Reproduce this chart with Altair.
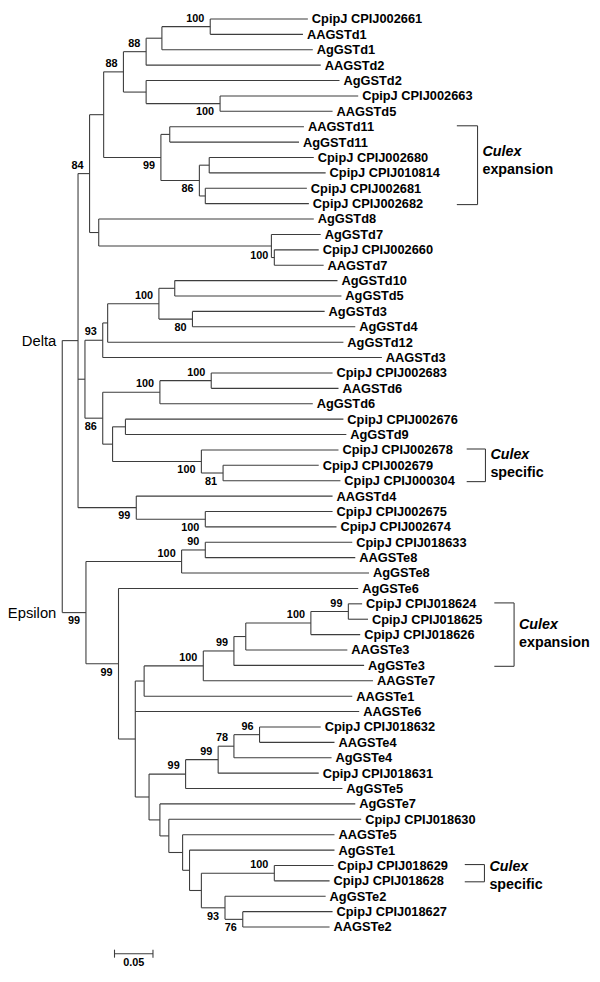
import altair as alt
import pandas as pd

# ---------------- data ----------------
# leaves, top to bottom, with the internal node they hang from and their
# distance from the root (substitutions per site)
leaf_names = [
    "CpipJ CPIJ002661", "AAGSTd1", "AgGSTd1", "AAGSTd2", "AgGSTd2", "CpipJ CPIJ002663", "AAGSTd5",
    "AAGSTd11", "AgGSTd11", "CpipJ CPIJ002680", "CpipJ CPIJ010814", "CpipJ CPIJ002681", "CpipJ CPIJ002682",
    "AgGSTd8", "AgGSTd7", "CpipJ CPIJ002660", "AAGSTd7",
    "AgGSTd10", "AgGSTd5", "AgGSTd3", "AgGSTd4", "AgGSTd12", "AAGSTd3",
    "CpipJ CPIJ002683", "AAGSTd6", "AgGSTd6", "CpipJ CPIJ002676", "AgGSTd9",
    "CpipJ CPIJ002678", "CpipJ CPIJ002679", "CpipJ CPIJ000304",
    "AAGSTd4", "CpipJ CPIJ002675", "CpipJ CPIJ002674",
    "CpipJ CPIJ018633", "AAGSTe8", "AgGSTe8", "AgGSTe6",
    "CpipJ CPIJ018624", "CpipJ CPIJ018625", "CpipJ CPIJ018626", "AAGSTe3", "AgGSTe3",
    "AAGSTe7", "AAGSTe1", "AAGSTe6",
    "CpipJ CPIJ018632", "AAGSTe4", "AgGSTe4", "CpipJ CPIJ018631", "AgGSTe5",
    "AgGSTe7", "CpipJ CPIJ018630", "AAGSTe5", "AgGSTe1", "CpipJ CPIJ018629", "CpipJ CPIJ018628",
    "AgGSTe2", "CpipJ CPIJ018627", "AAGSTe2",
]
leaf_parent = [
    "K", "K", "J", "H", "I", "L", "L",
    "M", "M", "O", "O", "P", "P",
    "E", "C", "D", "D",
    "U", "U", "V", "V", "S", "R",
    "Z", "Z", "X", "AA", "AA",
    "AB", "AC", "AC",
    "AD", "AE", "AE",
    "AH", "AH", "AF", "AG",
    "AQ", "AQ", "AP", "AO", "AN",
    "AL", "AK", "AI",
    "AV", "AV", "AU", "AT", "AR",
    "AS", "AW", "AX", "AY", "BA", "BA",
    "BB", "BC", "BC",
]
leaf_depth = [
    0.3192, 0.3128, 0.3256, 0.3359, 0.3603, 0.3846, 0.3513,
    0.3141, 0.3077, 0.3269, 0.3423, 0.3179, 0.3205,
    0.3269, 0.3359, 0.3333, 0.3397,
    0.3577, 0.3628, 0.3410, 0.3808, 0.3654, 0.4154,
    0.3513, 0.3590, 0.3256, 0.3654, 0.3692,
    0.3590, 0.3333, 0.3615,
    0.3513, 0.3513, 0.3564,
    0.3769, 0.3808, 0.3987, 0.3846,
    0.3897, 0.3974, 0.3872, 0.3705, 0.3923,
    0.4038, 0.3769, 0.3859,
    0.3359, 0.3538, 0.3500, 0.3333, 0.3641,
    0.3808, 0.3885, 0.3538, 0.3538, 0.3526, 0.3474,
    0.3423, 0.3513, 0.3474,
]

# internal nodes: id, parent, distance from root, bootstrap support
node_ids = [
    "Root", "Delta", "Epsilon",
    "A", "B", "F", "H", "J", "K", "I", "L", "G", "M", "N", "O", "P", "E", "C", "D",
    "Q", "R", "S", "T", "U", "V", "W", "X", "Z", "Y", "AA", "AB", "AC",
    "AD", "AE",
    "AF", "AH", "AG", "AI", "AK", "AL", "AN", "AO", "AP", "AQ",
    "AM", "AR", "AT", "AU", "AV", "AS", "AW", "AX", "AY", "AZ", "BA", "BB", "BC",
]
node_parent = [
    None, "Root", "Root",
    "Delta", "A", "B", "F", "H", "J", "F", "I", "B", "G", "G", "N", "N", "A", "E", "C",
    "Delta", "Q", "R", "S", "T", "T", "Q", "W", "X", "W", "Y", "Y", "AB",
    "Delta", "AD",
    "Epsilon", "AF", "Epsilon", "AG", "AI", "AK", "AL", "AN", "AO", "AP",
    "AI", "AM", "AR", "AT", "AU", "AM", "AS", "AW", "AX", "AY", "AZ", "AZ", "BB",
]
node_depth = [
    0.0, 0.0205, 0.0308,
    0.0355, 0.0538, 0.0795, 0.1090, 0.1295, 0.1923, 0.1090, 0.2051, 0.1282, 0.1397, 0.1782,
    0.1910, 0.1859, 0.0474, 0.2718, 0.2756,
    0.0295, 0.0526, 0.0590, 0.1256, 0.1462, 0.1692, 0.0526, 0.1269, 0.1936, 0.0654, 0.0821,
    0.1808, 0.2090,
    0.0962, 0.1859,
    0.1551, 0.1859, 0.0731, 0.0949, 0.1064, 0.1833, 0.2231, 0.2385, 0.3231, 0.3718,
    0.1128, 0.1603, 0.2026, 0.2231, 0.2564, 0.1269, 0.1385, 0.1564, 0.1654, 0.1808,
    0.2756, 0.2115, 0.2346,
]
node_support = [
    None, None, 99,
    84, None, 88, 88, None, 100, None, 100, 99, None, 86, None, None, None, None, 100,
    None, 93, None, 100, None, 80, 86, 100, 100, None, None, 100, 81,
    99, 100,
    100, 90, 99, None, None, 100, 99, None, 100, 99,
    None, 99, 99, 78, 96, None, None, None, None, None, 100, 93, 76,
]
# where each support value sits relative to its node: a = above, b = below, m = level
support_side = {
    "Epsilon": "b", "A": "a", "F": "a", "H": "a", "K": "a", "L": "b", "G": "b", "N": "b", "D": "m",
    "R": "a", "T": "a", "V": "b", "W": "b", "X": "a", "Z": "a", "AB": "b", "AC": "b",
    "AD": "b", "AE": "b", "AF": "a", "AH": "a", "AG": "b", "AL": "a", "AN": "a", "AP": "a",
    "AQ": "a", "AR": "a", "AT": "a", "AU": "a", "AV": "a", "BA": "a", "BB": "b", "BC": "b",
}

group_labels = ["Delta", "Epsilon"]

bracket_first = ["AAGSTd11", "CpipJ CPIJ002678", "CpipJ CPIJ018624", "CpipJ CPIJ018629"]
bracket_last = ["CpipJ CPIJ002682", "CpipJ CPIJ000304", "AgGSTe3", "CpipJ CPIJ018628"]
bracket_word1 = ["Culex", "Culex", "Culex", "Culex"]
bracket_word2 = ["expansion", "specific", "expansion", "specific"]

scale_bar_length = 0.05
scale_bar_label = "0.05"

# ---------------- layout (pixels -> data units) ----------------
W, H = 592, 950
PX_PER_UNIT = 780.0          # 39 px = 0.05
ROOT_PX = 55.0               # root position inside the view
ROW_PX = 15.602              # leaf spacing
ROW0_PX = 4.5                # first leaf inside the view
X0 = -ROOT_PX / PX_PER_UNIT
X1 = (W - ROOT_PX) / PX_PER_UNIT
Y0 = (0 - ROW0_PX) / ROW_PX
Y1 = (H - ROW0_PX) / ROW_PX

bracket_left = [0.5128, 0.5256, 0.5615, 0.5231]
bracket_right = [0.5397, 0.5500, 0.5872, 0.5487]
bracket_text_row = [8.67, 28.34, 39.37, 55.11]
scale_bar_start = 0.0679
scale_bar_row = 60.73
scale_label_row = 61.34

FONT = "Liberation Sans"
LINE = "#3d3d3d"

# ---------------- build tree geometry ----------------
row_of = {n: i for i, n in enumerate(leaf_names)}
depth_of = dict(zip(node_ids, node_depth))
depth_of.update(dict(zip(leaf_names, leaf_depth)))
parent_of = dict(zip(node_ids, node_parent))
parent_of.update(dict(zip(leaf_names, leaf_parent)))
children = {n: [] for n in node_ids}
for n, p in parent_of.items():
    if p is not None:
        children[p].append(n)


def span(n):
    if n in row_of:
        return row_of[n], row_of[n]
    lo, hi = 1e9, -1e9
    for c in children[n]:
        r = node_row(c)
        lo, hi = min(lo, r), max(hi, r)
    return lo, hi


_cache = {}


def node_row(n):
    if n not in _cache:
        lo, hi = span(n)
        _cache[n] = (lo + hi) / 2.0
    return _cache[n]


segs = []
for n in node_ids:
    lo, hi = span(n)
    segs.append(dict(x=depth_of[n], x2=depth_of[n], y=lo, y2=hi))
for n, p in parent_of.items():
    if p is not None:
        r = node_row(n)
        segs.append(dict(x=depth_of[p], x2=depth_of[n], y=r, y2=r))
seg_df = pd.DataFrame(segs)

leaf_df = pd.DataFrame({"name": leaf_names, "depth": leaf_depth,
                        "row": [row_of[n] for n in leaf_names]})

sup_rows = []
for n, s in zip(node_ids, node_support):
    if s is not None:
        sup_rows.append(dict(node=n, depth=depth_of[n], row=node_row(n),
                             label=str(s), side=support_side[n]))
sup_df = pd.DataFrame(sup_rows)

grp_df = pd.DataFrame({"label": group_labels, "depth": [0.0, 0.0],
                       "row": [node_row(g) for g in group_labels]})

br = []
bt = []
for i in range(len(bracket_first)):
    a, b = row_of[bracket_first[i]], row_of[bracket_last[i]]
    L, R = bracket_left[i], bracket_right[i]
    br += [dict(x=R, x2=R, y=a - 0.06, y2=b + 0.06),
           dict(x=L, x2=R, y=a - 0.06, y2=a - 0.06),
           dict(x=L, x2=R, y=b + 0.06, y2=b + 0.06)]
    bt.append(dict(x=R, row=bracket_text_row[i], w1=bracket_word1[i], w2=bracket_word2[i]))
br_df = pd.DataFrame(br)
bt_df = pd.DataFrame(bt)

sb_end = scale_bar_start + scale_bar_length
sb_df = pd.DataFrame([
    dict(x=scale_bar_start, x2=sb_end, y=scale_bar_row, y2=scale_bar_row),
    dict(x=scale_bar_start, x2=scale_bar_start, y=scale_bar_row - 0.26, y2=scale_bar_row + 0.26),
    dict(x=sb_end, x2=sb_end, y=scale_bar_row - 0.26, y2=scale_bar_row + 0.26),
])
sbl_df = pd.DataFrame([dict(x=scale_bar_start + scale_bar_length / 2, row=scale_label_row,
                            label=scale_bar_label)])

# ---------------- chart ----------------
xs = alt.Scale(domain=[X0, X1], nice=False, zero=False)
ys = alt.Scale(domain=[Y0, Y1], nice=False, zero=False, reverse=True)


def X(f):
    return alt.X(f, type="quantitative", scale=xs, axis=None)


def Y(f):
    return alt.Y(f, type="quantitative", scale=ys, axis=None)


tree = alt.Chart(seg_df).mark_rule(color=LINE, strokeWidth=1.1).encode(
    x=X("x"), x2="x2", y=Y("y"), y2="y2")

leaves = alt.Chart(leaf_df).mark_text(
    align="left", baseline="middle", dx=4, dy=0.5, font=FONT, fontSize=13,
    fontWeight="bold", color="black").encode(x=X("depth"), y=Y("row"), text="name:N")

side_dy = {"a": -8, "b": 9, "m": -2}
sup_layers = []
for side, dy in side_dy.items():
    sub = sup_df[sup_df["side"] == side]
    sup_layers.append(alt.Chart(sub).mark_text(
        align="right", baseline="middle", dx=-6, dy=dy, font=FONT, fontSize=11,
        fontWeight="bold", color="black").encode(x=X("depth"), y=Y("row"), text="label:N"))

groups = alt.Chart(grp_df).mark_text(
    align="right", baseline="middle", dx=-6, font=FONT, fontSize=15,
    color="black").encode(x=X("depth"), y=Y("row"), text="label:N")

brackets = alt.Chart(br_df).mark_rule(color=LINE, strokeWidth=1.1).encode(
    x=X("x"), x2="x2", y=Y("y"), y2="y2")
btext1 = alt.Chart(bt_df).mark_text(
    align="left", baseline="middle", dx=5, font=FONT, fontSize=14.5, fontWeight="bold",
    fontStyle="italic", color="black").encode(x=X("x"), y=Y("row"), text="w1:N")
btext2 = alt.Chart(bt_df).mark_text(
    align="left", baseline="middle", dx=5, dy=18, font=FONT, fontSize=14.5, fontWeight="bold",
    color="black").encode(x=X("x"), y=Y("row"), text="w2:N")

sbar = alt.Chart(sb_df).mark_rule(color=LINE, strokeWidth=1.1).encode(
    x=X("x"), x2="x2", y=Y("y"), y2="y2")
sbar_t = alt.Chart(sbl_df).mark_text(
    align="center", baseline="middle", font=FONT, fontSize=11, fontWeight="bold",
    color="black").encode(x=X("x"), y=Y("row"), text="label:N")

chart = alt.layer(tree, leaves, *sup_layers, groups, brackets, btext1, btext2, sbar, sbar_t).properties(
    width=W, height=H,
    autosize=alt.AutoSizeParams(type="none"),
    padding={"left": 0, "right": 0, "top": 0, "bottom": 16},
).configure_view(stroke=None)

chart.save("out.html", embed_options={"renderer": "svg", "actions": False})
